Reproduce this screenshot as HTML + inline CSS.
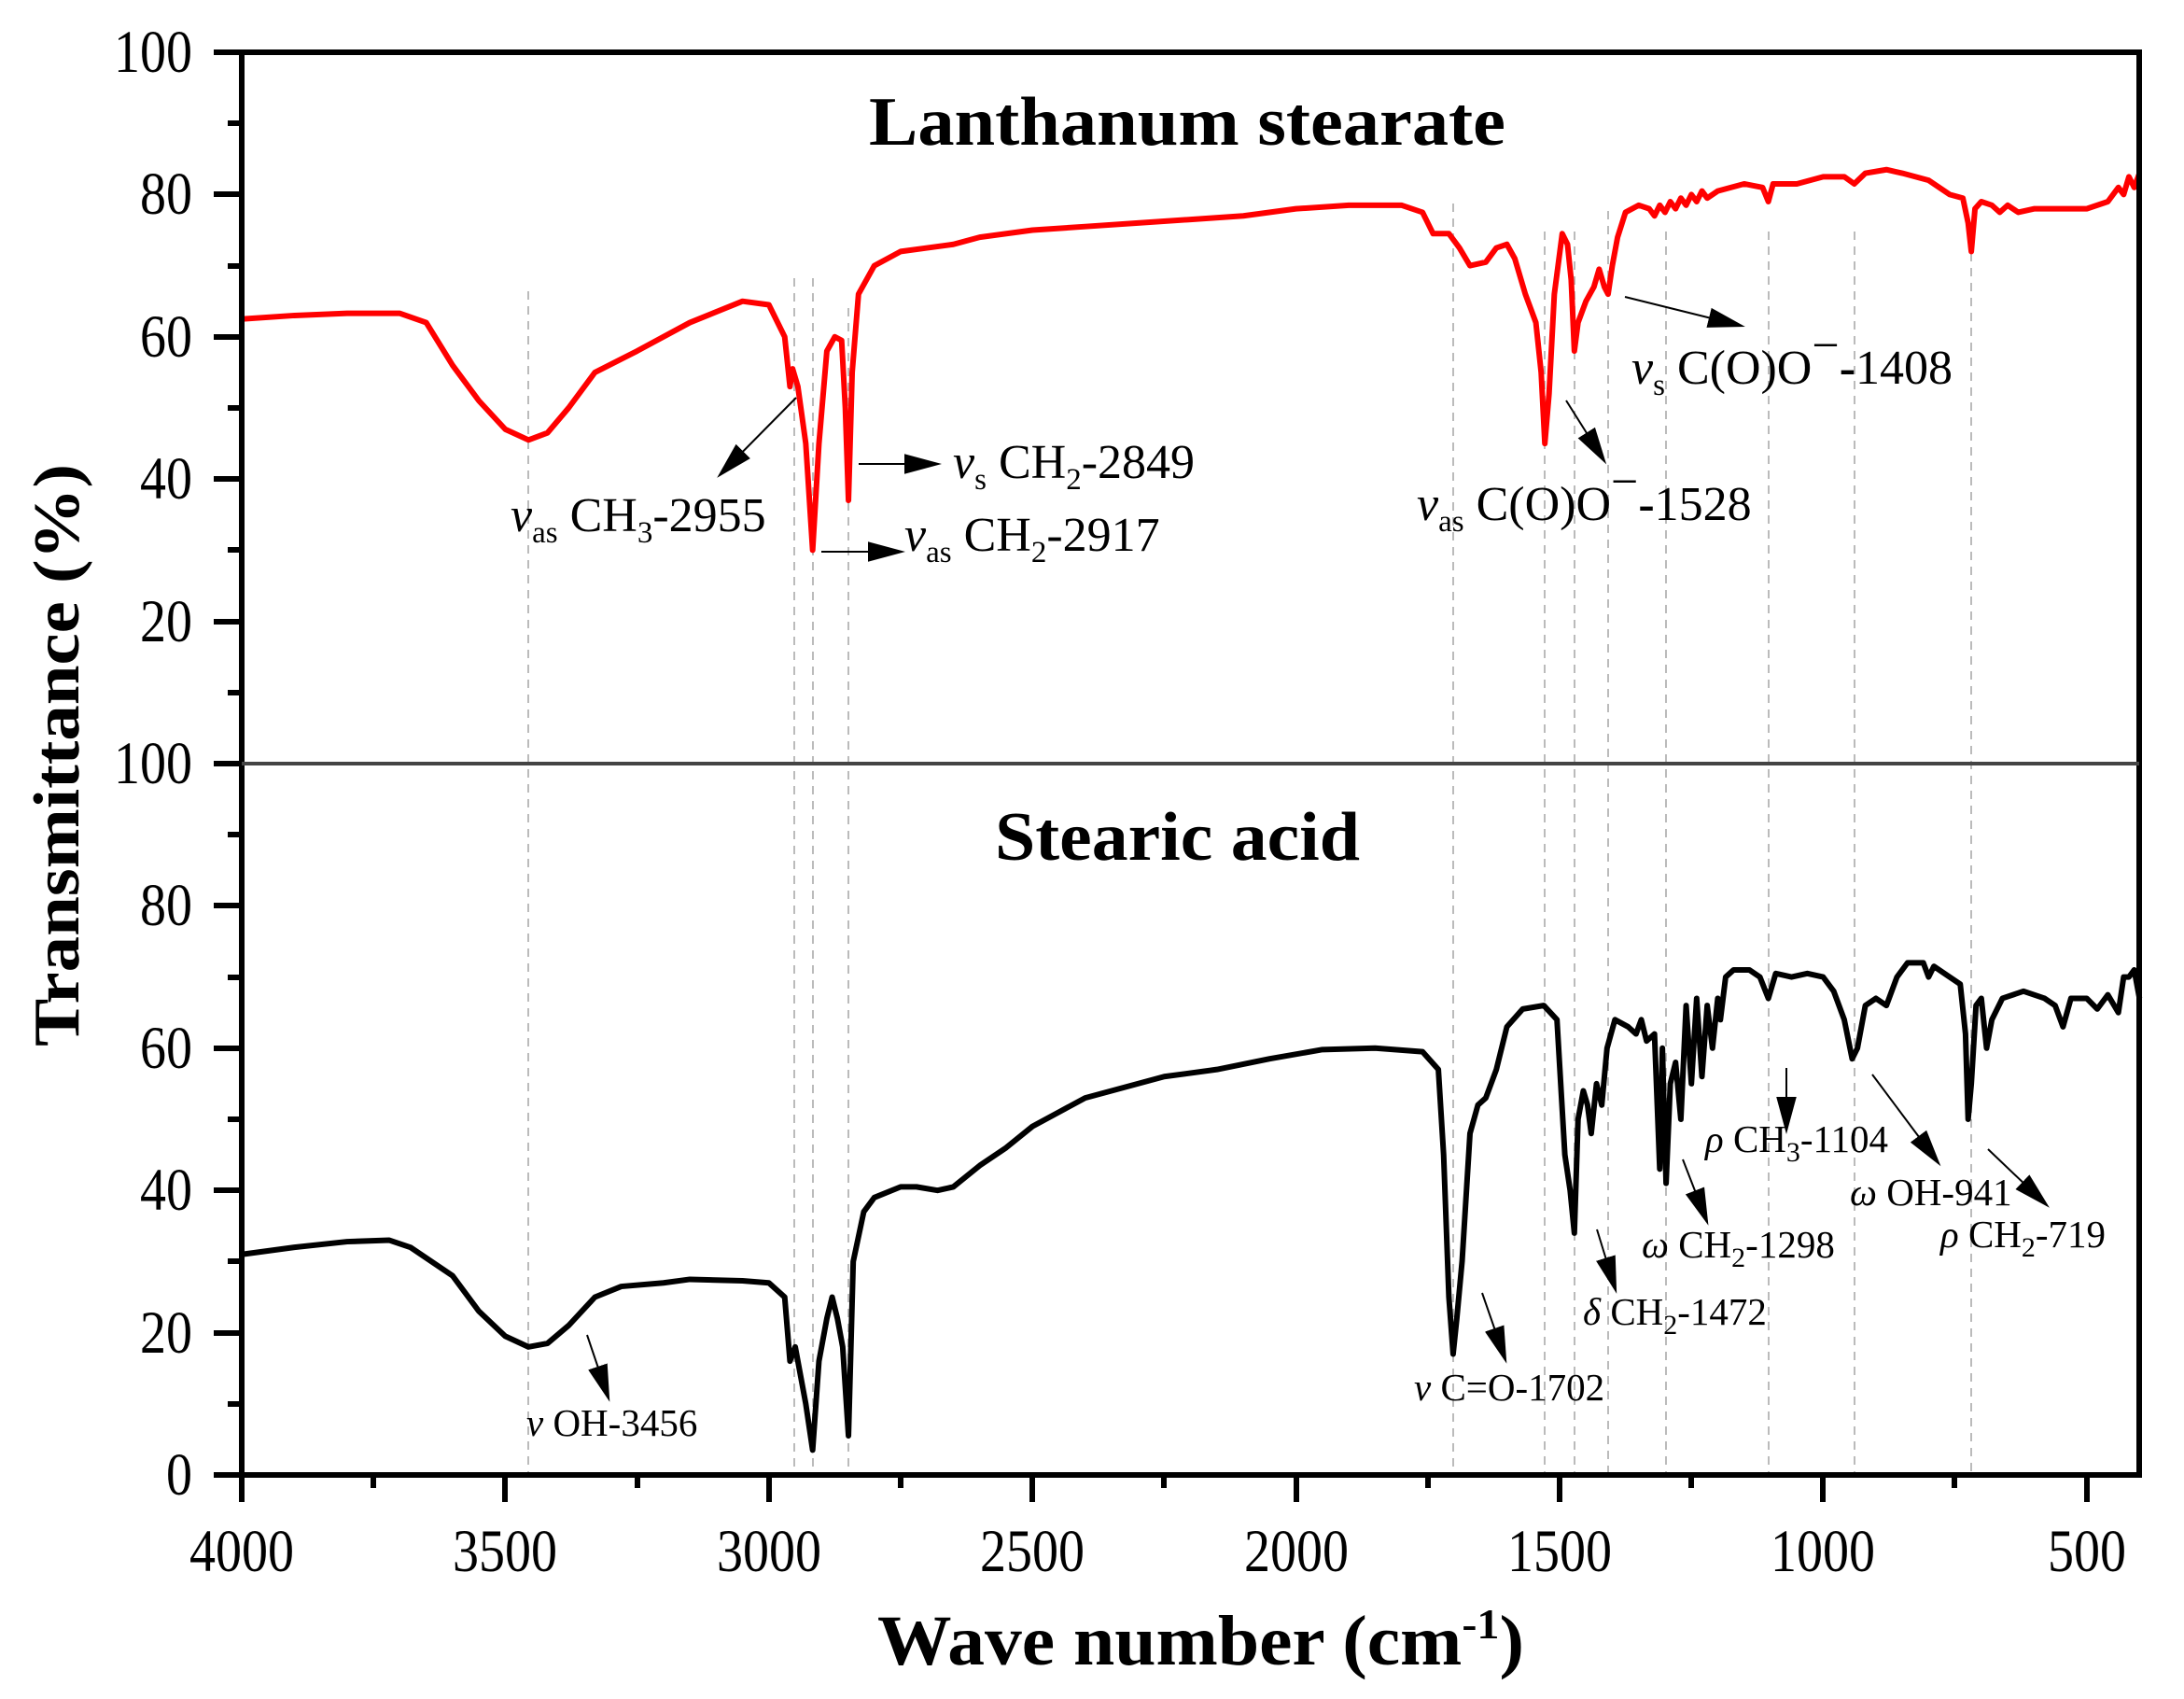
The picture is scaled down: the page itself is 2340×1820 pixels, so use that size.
<!DOCTYPE html>
<html><head><meta charset="utf-8"><style>
html,body{margin:0;padding:0;background:#fff}
svg{display:block}
text{font-family:"Liberation Serif",serif;fill:#000}
</style></head><body>
<svg width="2340" height="1820" viewBox="0 0 2340 1820" xmlns="http://www.w3.org/2000/svg">
<defs>
<marker id="ah2" viewBox="0 0 10 10" refX="9" refY="5" markerUnits="userSpaceOnUse" markerWidth="40" markerHeight="40" orient="auto">
<path d="M0,2.3 L10,5 L0,7.7 z" fill="#000"/>
</marker>
</defs>
<g stroke="#bbb" stroke-width="2" stroke-dasharray="9,7" fill="none">
<line x1="566" y1="312" x2="566" y2="1580"/>
<line x1="851" y1="298" x2="851" y2="1580"/>
<line x1="871" y1="298" x2="871" y2="1580"/>
<line x1="909" y1="330" x2="909" y2="1580"/>
<line x1="1557" y1="218" x2="1557" y2="1580"/>
<line x1="1655" y1="248" x2="1655" y2="1580"/>
<line x1="1687" y1="248" x2="1687" y2="1580"/>
<line x1="1723" y1="226" x2="1723" y2="1580"/>
<line x1="1785" y1="248" x2="1785" y2="1580"/>
<line x1="1895" y1="248" x2="1895" y2="1580"/>
<line x1="1987" y1="248" x2="1987" y2="1580"/>
<line x1="2112" y1="255" x2="2112" y2="1580"/>
</g>
<path transform="matrix(-0.5648 0 0 -7.62 2518.2 818)" vector-effect="non-scaling-stroke" fill="none" stroke="#ff0000" stroke-width="6" stroke-linejoin="round"
d="M4000,62.5 L3900,63 3800,63.3 3700,63.3 3650,62 3600,56 3550,51 3500,47 3456,45.5 3420,46.5 3380,50 3330,55 3250,58 3150,62 3050,65 3000,64.5 2970,60 2960,53 2955,55.5 2945,53 2930,45 2917,30 2905,45 2890,58 2875,60 2862,59.5 2855,50 2849,37 2842,55 2830,66 2800,70 2750,72 2700,72.5 2650,73 2600,74 2500,75 2400,75.5 2300,76 2200,76.5 2100,77 2000,78 1900,78.5 1800,78.5 1760,77.5 1740,74.5 1710,74.5 1690,72.5 1670,70 1640,70.5 1620,72.5 1600,73 1585,71 1565,66 1545,62 1535,55 1528,45 1520,52 1510,66 1495,74.5 1485,73 1478,68 1472,58 1465,62 1450,65 1435,67 1425,69.5 1415,67 1408,66 1400,70 1390,74 1375,77.5 1350,78.5 1330,78 1320,77 1310,78.5 1300,77.5 1290,79 1280,78 1270,79.5 1260,78.5 1250,80 1240,79 1230,80.5 1220,79.5 1200,80.5 1150,81.5 1115,81 1104,79 1095,81.5 1050,81.5 1000,82.5 960,82.5 941,81.5 920,83 880,83.5 850,83 800,82 760,80 735,79.5 725,76 719,72 712,78 700,79 680,78.5 665,77.5 650,78.5 630,77.5 600,78 550,78 500,78 460,79 440,81 430,80 420,82.5 410,81 400,83"/>
<path transform="matrix(-0.5648 0 0 -7.62 2518.2 1580)" vector-effect="non-scaling-stroke" fill="none" stroke="#000" stroke-width="6" stroke-linejoin="round"
d="M4000,31 L3900,32 3800,32.8 3720,33 3680,32 3600,28 3550,23 3500,19.5 3456,18 3420,18.5 3380,21 3330,25 3280,26.5 3200,27 3150,27.5 3050,27.3 3000,27 2970,25 2960,16 2950,18 2940,14 2930,10 2917,3.5 2905,16 2890,22 2880,25 2870,22 2860,18 2849,5.5 2840,30 2820,37 2800,39 2750,40.5 2720,40.5 2680,40 2650,40.5 2600,43.5 2550,46 2500,49 2450,51 2400,53 2300,55 2250,56 2150,57 2050,58.5 1950,59.8 1850,60 1760,59.5 1730,57 1720,45 1710,25 1702,17 1695,22 1685,30 1670,48 1655,52 1640,53 1620,57 1600,63 1570,65.5 1530,66 1505,64 1490,45 1480,40 1472,34 1465,50 1455,54 1447,52 1440,48 1430,55 1420,52 1410,60 1395,64 1370,63 1355,62 1345,64 1335,61 1320,62 1310,43 1305,60 1298,41 1290,55 1280,58 1270,50 1260,66 1250,55 1240,67 1230,56 1220,66 1210,60 1200,67 1195,64 1185,70 1170,71 1140,71 1120,70 1104,67 1090,70.5 1060,70 1030,70.5 1000,70 980,68 960,64 945,58.5 935,60 920,66 900,67 880,66 860,70 840,72 810,72 800,70 790,71.5 760,70 740,69 730,62 725,50 719,55 710,66 700,67 690,60 680,64 660,67 620,68 580,67 560,66 545,63 530,67 500,67 480,65.5 460,67.5 440,65 430,70 420,70 410,71 400,67"/>
<rect x="259" y="56" width="2033" height="1524" fill="none" stroke="#000" stroke-width="6"/>
<line x1="259" y1="818" x2="2292" y2="818" stroke="#444" stroke-width="4"/>
<g stroke="#000" stroke-width="6">
<line x1="229" y1="56" x2="259" y2="56"/><line x1="229" y1="208" x2="259" y2="208"/><line x1="229" y1="361" x2="259" y2="361"/><line x1="229" y1="513" x2="259" y2="513"/><line x1="229" y1="666" x2="259" y2="666"/><line x1="229" y1="818" x2="259" y2="818"/>
<line x1="229" y1="970" x2="259" y2="970"/><line x1="229" y1="1123" x2="259" y2="1123"/><line x1="229" y1="1275" x2="259" y2="1275"/><line x1="229" y1="1428" x2="259" y2="1428"/><line x1="229" y1="1580" x2="259" y2="1580"/>
<line x1="244" y1="132" x2="259" y2="132"/><line x1="244" y1="285" x2="259" y2="285"/><line x1="244" y1="437" x2="259" y2="437"/><line x1="244" y1="589" x2="259" y2="589"/><line x1="244" y1="742" x2="259" y2="742"/>
<line x1="244" y1="894" x2="259" y2="894"/><line x1="244" y1="1047" x2="259" y2="1047"/><line x1="244" y1="1199" x2="259" y2="1199"/><line x1="244" y1="1351" x2="259" y2="1351"/><line x1="244" y1="1504" x2="259" y2="1504"/>
<line x1="259" y1="1580" x2="259" y2="1609"/><line x1="541" y1="1580" x2="541" y2="1609"/><line x1="824" y1="1580" x2="824" y2="1609"/><line x1="1106" y1="1580" x2="1106" y2="1609"/><line x1="1389" y1="1580" x2="1389" y2="1609"/><line x1="1671" y1="1580" x2="1671" y2="1609"/><line x1="1953" y1="1580" x2="1953" y2="1609"/><line x1="2236" y1="1580" x2="2236" y2="1609"/>
<line x1="400" y1="1580" x2="400" y2="1594"/><line x1="683" y1="1580" x2="683" y2="1594"/><line x1="965" y1="1580" x2="965" y2="1594"/><line x1="1247" y1="1580" x2="1247" y2="1594"/><line x1="1530" y1="1580" x2="1530" y2="1594"/><line x1="1812" y1="1580" x2="1812" y2="1594"/><line x1="2094" y1="1580" x2="2094" y2="1594"/>
</g>
<g font-size="56" text-anchor="end">
<text transform="translate(206,77) scale(1,1.15)">100</text><text transform="translate(206,229) scale(1,1.15)">80</text><text transform="translate(206,382) scale(1,1.15)">60</text><text transform="translate(206,534) scale(1,1.15)">40</text><text transform="translate(206,687) scale(1,1.15)">20</text><text transform="translate(206,839) scale(1,1.15)">100</text>
<text transform="translate(206,991) scale(1,1.15)">80</text><text transform="translate(206,1144) scale(1,1.15)">60</text><text transform="translate(206,1296) scale(1,1.15)">40</text><text transform="translate(206,1449) scale(1,1.15)">20</text><text transform="translate(206,1601) scale(1,1.15)">0</text>
</g>
<g font-size="56" text-anchor="middle">
<text transform="translate(259,1683) scale(1,1.15)">4000</text><text transform="translate(541,1683) scale(1,1.15)">3500</text><text transform="translate(824,1683) scale(1,1.15)">3000</text><text transform="translate(1106,1683) scale(1,1.15)">2500</text><text transform="translate(1389,1683) scale(1,1.15)">2000</text><text transform="translate(1671,1683) scale(1,1.15)">1500</text><text transform="translate(1953,1683) scale(1,1.15)">1000</text><text transform="translate(2236,1683) scale(1,1.15)">500</text>
</g>
<text x="931" y="155" font-size="74" font-weight="bold" textLength="682" lengthAdjust="spacingAndGlyphs">Lanthanum stearate</text>
<text x="1066" y="921" font-size="74" font-weight="bold" textLength="391" lengthAdjust="spacingAndGlyphs">Stearic acid</text>
<text transform="translate(84,809) rotate(-90)" text-anchor="middle" font-size="70" font-weight="bold" textLength="624" lengthAdjust="spacingAndGlyphs">Transmittance (%)</text>
<text x="940" y="1783" font-size="76" font-weight="bold" textLength="693" lengthAdjust="spacingAndGlyphs">Wave number (cm<tspan dy="-28" font-size="46">-1</tspan><tspan dy="28">)</tspan></text>
<g stroke="#000" stroke-width="2" marker-end="url(#ah2)">
<line x1="853" y1="426" x2="771" y2="509"/>
<line x1="920" y1="497" x2="1005" y2="497"/>
<line x1="880" y1="591" x2="966" y2="591"/>
<line x1="1678" y1="429" x2="1719" y2="494"/>
<line x1="1741" y1="318" x2="1866" y2="349"/>
<line x1="629" y1="1430" x2="652" y2="1498"/>
<line x1="1588" y1="1385" x2="1613" y2="1457"/>
<line x1="1711" y1="1317" x2="1731" y2="1382"/>
<line x1="1803" y1="1242" x2="1829" y2="1309"/>
<line x1="1914" y1="1144" x2="1914" y2="1211"/>
<line x1="2006" y1="1151" x2="2077" y2="1246"/>
<line x1="2130" y1="1231" x2="2193" y2="1291"/>
</g>
<g font-size="52">
<text x="547" y="569"><tspan font-style="italic">ν</tspan><tspan dy="12" font-size="33">as</tspan><tspan dy="-12"> CH</tspan><tspan dy="12" font-size="33">3</tspan><tspan dy="-12">-2955</tspan></text>
<text x="1021" y="512"><tspan font-style="italic">ν</tspan><tspan dy="12" font-size="33">s</tspan><tspan dy="-12"> CH</tspan><tspan dy="12" font-size="33">2</tspan><tspan dy="-12">-2849</tspan></text>
<text x="969" y="590"><tspan font-style="italic">ν</tspan><tspan dy="12" font-size="33">as</tspan><tspan dy="-12"> CH</tspan><tspan dy="12" font-size="33">2</tspan><tspan dy="-12">-2917</tspan></text>
<text x="1518" y="557"><tspan font-style="italic">ν</tspan><tspan dy="12" font-size="33">as</tspan><tspan dy="-12"> C(O)O</tspan><tspan dy="-24">−</tspan><tspan dy="24" font-weight="bold">-</tspan>1528</text>
<text x="1748" y="411"><tspan font-style="italic">ν</tspan><tspan dy="12" font-size="33">s</tspan><tspan dy="-12"> C(O)O</tspan><tspan dy="-24">−</tspan><tspan dy="24" font-weight="bold">-</tspan>1408</text>
</g>
<g font-size="41">
<text x="564" y="1538"><tspan font-style="italic">ν</tspan> OH-3456</text>
<text x="1515" y="1500"><tspan font-style="italic">ν</tspan> C=O-1702</text>
<text x="1696" y="1419"><tspan font-style="italic">δ</tspan> CH<tspan dy="10" font-size="30">2</tspan><tspan dy="-10">-1472</tspan></text>
<text x="1759" y="1347"><tspan font-style="italic">ω</tspan> CH<tspan dy="10" font-size="30">2</tspan><tspan dy="-10">-1298</tspan></text>
<text x="1827" y="1234"><tspan font-style="italic">ρ</tspan> CH<tspan dy="10" font-size="30">3</tspan><tspan dy="-10">-1104</tspan></text>
<text x="1982" y="1291"><tspan font-style="italic">ω</tspan> OH-941</text>
<text x="2079" y="1336"><tspan font-style="italic">ρ</tspan> CH<tspan dy="10" font-size="30">2</tspan><tspan dy="-10">-719</tspan></text>
</g>
</svg>
</body></html>
